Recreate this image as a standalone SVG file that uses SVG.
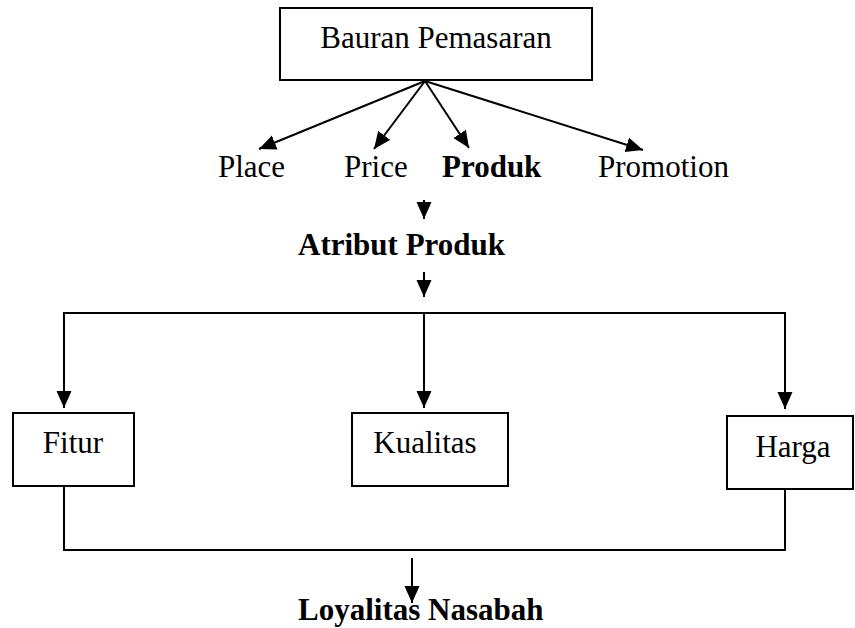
<svg xmlns="http://www.w3.org/2000/svg" width="855" height="628" viewBox="0 0 855 628">
<style>
.box{fill:#fff;stroke:#000;stroke-width:2}
.ln{fill:none;stroke:#000;stroke-width:2}
.t{font-family:"Liberation Serif","Times New Roman",serif;font-size:31px;fill:#000}
.b{font-weight:bold}
</style>
<defs>
<marker id="ah" markerUnits="userSpaceOnUse" markerWidth="18" markerHeight="16" refX="17" refY="8" orient="auto" viewBox="0 0 18 16">
<path d="M0,0.5 L17,8 L0,15.5 z" fill="#000"/>
</marker>
</defs>
<rect width="855" height="628" fill="#fff"/>
<g id="connectors">
<line class="ln" x1="425" y1="81" x2="259" y2="149" marker-end="url(#ah)"/>
<line class="ln" x1="425" y1="81" x2="374" y2="149" marker-end="url(#ah)"/>
<line class="ln" x1="425" y1="81" x2="469" y2="148" marker-end="url(#ah)"/>
<line class="ln" x1="425" y1="81" x2="643" y2="150" marker-end="url(#ah)"/>
<line class="ln" x1="424" y1="200" x2="424" y2="219" marker-end="url(#ah)"/>
<line class="ln" x1="424" y1="272" x2="424" y2="297" marker-end="url(#ah)"/>
<polyline class="ln" points="64,395 64,313 785,313 785,395"/>
<line class="ln" x1="64" y1="390" x2="64" y2="408" marker-end="url(#ah)"/>
<line class="ln" x1="785" y1="390" x2="785" y2="409" marker-end="url(#ah)"/>
<line class="ln" x1="424" y1="313" x2="424" y2="408" marker-end="url(#ah)"/>
<polyline class="ln" points="64,486 64,550 785,550 785,489"/>
<line class="ln" x1="412" y1="558" x2="412" y2="603" marker-end="url(#ah)"/>
</g>
<g id="bauran">
<rect class="box" x="280" y="8" width="312" height="72"/>
<text class="t" x="436" y="48" text-anchor="middle">Bauran Pemasaran</text>
</g>
<g id="place"><text class="t" x="218" y="177">Place</text></g>
<g id="price"><text class="t" x="344" y="177">Price</text></g>
<g id="produk"><text class="t b" x="442" y="177">Produk</text></g>
<g id="promotion"><text class="t" x="598" y="177">Promotion</text></g>
<g id="atribut"><text class="t b" x="298" y="255">Atribut Produk</text></g>
<g id="fitur">
<rect class="box" x="13" y="413" width="121" height="73"/>
<text class="t" x="73" y="453" text-anchor="middle">Fitur</text>
</g>
<g id="kualitas">
<rect class="box" x="352" y="413" width="156" height="73"/>
<text class="t" x="425" y="453" text-anchor="middle">Kualitas</text>
</g>
<g id="harga">
<rect class="box" x="727" y="416" width="126" height="73"/>
<text class="t" x="793" y="457" text-anchor="middle">Harga</text>
</g>
<g id="loyalitas"><text class="t b" x="298" y="620">Loyalitas Nasabah</text></g>
</svg>
